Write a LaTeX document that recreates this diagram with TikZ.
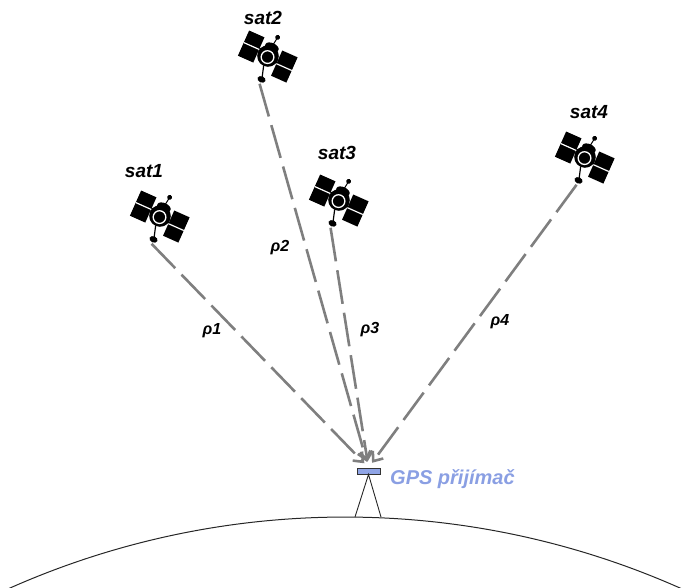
\documentclass[tikz,border=0pt]{standalone}
\usepackage{fontspec}
\setmainfont{Liberation Sans}
\usepackage{tikz}
\usetikzlibrary{arrows.meta,positioning}
\definecolor{rayc}{HTML}{7F7F7F}
\definecolor{rxc}{HTML}{8FA4E6}
\definecolor{rxtxt}{HTML}{8A9FE3}
\tikzset{
  ray/.style={rayc,line width=2.6pt,dash pattern=on 34pt off 9pt,-{Straight Barb[length=8pt,width=13pt]},shorten >=6pt},
  satlbl/.style={font=\fontsize{19}{22}\selectfont\bfseries\itshape,inner sep=0pt},
  rholbl/.style={font=\fontsize{16}{18}\selectfont\bfseries\itshape,inner sep=0pt},
  pics/satellite/.style={code={
    \begin{scope}[rotate=-24,scale=1.2]
      % solar panels
      \fill (-23,-10) rectangle (-9,13);
      \fill (9,-14) rectangle (23,9);
      \draw[white,line width=1.2pt] (-23,2)--(-9,2) (9,-3)--(23,-3);
      \draw[line width=1.6pt] (-9,3)--(9,-2);
      % body
      \fill (0,8) ellipse (6 and 3.5);
      \fill (0,0) circle (9);
      \draw[white,line width=1.3pt] (0,-1) circle (5.3);
      \fill (0,-1) circle (2.8);
      % antenna
      \draw[line width=1pt] (0,10)--(1,17);
      \fill (1,17.5) circle (2);
      % dish
      \draw[line width=1.2pt] (0,-9)--(3,-19);
      \fill (3,-20) ellipse (3.5 and 2.6);
      \coordinate (-dish) at (3,-24);
    \end{scope}
  }}
}
\begin{document}
\begin{tikzpicture}[x=1pt,y=1pt]
\useasboundingbox (0,0) rectangle (687,588);
% earth surface
\draw[black!85,line width=1pt] (345,-755) ++(114.5:826) arc (114.5:65.5:826);
% satellites
\pic (s1) at (160,372) {satellite};
\pic (s2) at (268,532) {satellite};
\pic (s3) at (339,388) {satellite};
\pic (s4) at (585,431) {satellite};
\node[satlbl] (l1) at (144,417) {sat1};
\node[satlbl] (l2) at (263,570) {sat2};
\node[satlbl] (l3) at (337,435) {sat3};
\node[satlbl] (l4) at (589,476) {sat4};
% receiver on tripod
\node[draw=black!80,fill=rxc,line width=0.8pt,minimum width=23pt,minimum height=6pt,inner sep=0pt] (rx) at (368.5,117) {};
\coordinate (leg1) at (355,71);
\coordinate (leg2) at (381,71);
\draw[black!85,line width=0.9pt] (leg1) -- (rx.south) -- (leg2);
\node[font=\fontsize{20}{24}\selectfont\bfseries\itshape,text=rxtxt,anchor=base west,inner sep=0pt] (rxl) at (390,103) {GPS přijímač};
% pseudoranges
\draw[ray] (s1-dish) -- (rx.north);
\draw[ray] (s2-dish) -- (rx.north);
\draw[ray] (s3-dish) -- (rx.north);
\draw[ray] (s4-dish) -- (rx.north);
\node[rholbl] (r1) at (212,257) {ρ1};
\node[rholbl] (r2) at (280,340) {ρ2};
\node[rholbl] (r3) at (370,258) {ρ3};
\node[rholbl] (r4) at (500,266) {ρ4};
\end{tikzpicture}
\end{document}
